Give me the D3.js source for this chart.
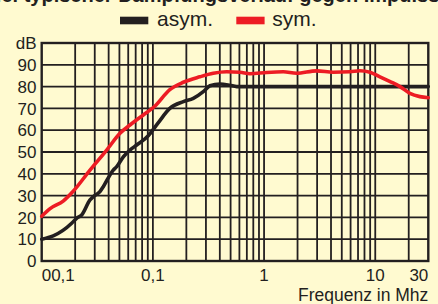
<!DOCTYPE html>
<html>
<head>
<meta charset="utf-8">
<script src="https://cdn.jsdelivr.net/npm/d3@7"></script>
<style>
  html, body { margin: 0; padding: 0; background: #fffad0; }
  svg { display: block; font-family: "Liberation Sans", Arial, sans-serif; }
</style>
</head>
<body>
<svg id="chart" width="438" height="304"></svg>
<script>
// ---- data ----
const titleText = "Beispiel typischer Dämpfungsverlauf gegen Impulsstörung";
const seriesNames = ["asym.", "sym."];
const seriesColors = ["#231f20", "#ed1c24"];

const freqAsym = [0.01, 0.0127, 0.0186, 0.0206, 0.0229, 0.0272, 0.0291, 0.0334, 0.0358, 0.044, 0.0473, 0.0542, 0.0622, 0.0715, 0.0909, 0.112, 0.142, 0.188, 0.231, 0.284, 0.326, 0.401, 0.493, 0.567, 1, 3, 10, 30];
const dbAsym   = [10, 11.5, 17.3, 19.6, 21.1, 28, 29.5, 31.8, 34.1, 41.7, 43.3, 47.8, 50.9, 53.2, 57.5, 63.5, 70, 73.1, 74.6, 77.7, 80.4, 81.2, 80.6, 80, 80, 80, 80, 80];

const freqSym = [0.01, 0.0119, 0.0156, 0.0192, 0.0272, 0.0384, 0.0506, 0.0622, 0.082, 0.104, 0.142, 0.188, 0.265, 0.349, 0.461, 0.607, 0.747, 1.055, 1.49, 1.96, 2.97, 4.19, 5.92, 7.28, 8.96, 11.0, 13.6, 16.7, 20.5, 25.2, 30];
const dbSym   = [20.5, 24, 27.5, 32, 41.7, 50.9, 58.6, 62.4, 67, 71, 78.6, 82, 84.5, 86.1, 86.8, 86.6, 85.9, 86.5, 86.8, 86.1, 87.2, 86.6, 86.8, 87.3, 86.6, 84.5, 82.3, 80, 76.9, 75.4, 74.9];

const yTicks = [0, 10, 20, 30, 40, 50, 60, 70, 80, 90];
const yUnit = "dB";
const xTickValues = [0.01, 0.1, 1, 10, 30];
const xTickLabels = ["00,1", "0,1", "1", "10", "30"];
const xAxisTitle = "Frequenz in Mhz";

// ---- layout ----
const ink = "#231f20";
const svg = d3.select("#chart");
const x = d3.scaleLog().domain([0.01, 30]).range([41.7, 428.3]);
const y = d3.scaleLinear().domain([0, 100]).range([261, 43]);

// title (cut off at top)
svg.append("text")
  .attr("x", 222).attr("y", 2)
  .attr("text-anchor", "middle")
  .attr("font-size", 20).attr("font-weight", "bold")
  .attr("fill", ink)
  .text(titleText);

// legend
const legendX = [120, 236.3];
const legendTextX = [157, 272.3];
seriesNames.forEach((n, i) => {
  svg.append("rect").attr("x", legendX[i]).attr("y", 16.7)
    .attr("width", 28.3).attr("height", 7.6).attr("fill", seriesColors[i]);
  svg.append("text").attr("x", legendTextX[i]).attr("y", 26)
    .attr("font-size", 21).attr("fill", ink).text(n);
});

// grid: vertical lines at every log tick
const minor = [];
[0.01, 0.1, 1, 10].forEach(d => { for (let k = 1; k <= 9; k++) { const v = d * k; if (v > 0.01 && v < 30) minor.push(v); } });
svg.append("g").selectAll("line").data(minor).join("line")
  .attr("x1", d => x(d)).attr("x2", d => x(d))
  .attr("y1", y(100)).attr("y2", y(0))
  .attr("stroke", ink).attr("stroke-width", 1.8);

svg.append("g").selectAll("line").data(yTicks.filter(d => d > 0)).join("line")
  .attr("x1", x(0.01)).attr("x2", x(30))
  .attr("y1", d => y(d)).attr("y2", d => y(d))
  .attr("stroke", ink).attr("stroke-width", 1.8);

// frame
svg.append("rect")
  .attr("x", x(0.01)).attr("y", y(100))
  .attr("width", x(30) - x(0.01)).attr("height", y(0) - y(100))
  .attr("fill", "none").attr("stroke", ink).attr("stroke-width", 2.4);

// y labels
svg.append("g").selectAll("text").data(yTicks).join("text")
  .attr("x", 36.5).attr("y", d => y(d)).attr("dy", "0.36em")
  .attr("text-anchor", "end").attr("font-size", 17).attr("fill", ink)
  .text(d => d);
svg.append("text").attr("x", 36.5).attr("y", y(100)).attr("dy", "0.36em")
  .attr("text-anchor", "end").attr("font-size", 17).attr("fill", ink).text(yUnit);

// x labels
svg.append("g").selectAll("text").data(xTickValues).join("text")
  .attr("x", d => x(d))
  .attr("y", 280.5)
  .attr("text-anchor", (d, i) => i === 0 ? "start" : (i === xTickValues.length - 1 ? "end" : "middle"))
  .attr("font-size", 17).attr("fill", ink)
  .text((d, i) => xTickLabels[i]);

svg.append("text").attr("x", x(30)).attr("y", 301)
  .attr("text-anchor", "end").attr("font-size", 17.5).attr("fill", ink)
  .text(xAxisTitle);

// curves
const line = d3.line().x(d => x(d[0])).y(d => y(d[1])).curve(d3.curveMonotoneX);
const asymData = freqAsym.map((f, i) => [f, dbAsym[i]]);
const symData = freqSym.map((f, i) => [f, dbSym[i]]);
svg.append("path").datum(asymData).attr("d", line)
  .attr("fill", "none").attr("stroke", seriesColors[0]).attr("stroke-width", 3.6)
  .attr("stroke-linejoin", "round").attr("stroke-linecap", "round");
svg.append("path").datum(symData).attr("d", line)
  .attr("fill", "none").attr("stroke", seriesColors[1]).attr("stroke-width", 3.6)
  .attr("stroke-linejoin", "round").attr("stroke-linecap", "round");
</script>
</body>
</html>
